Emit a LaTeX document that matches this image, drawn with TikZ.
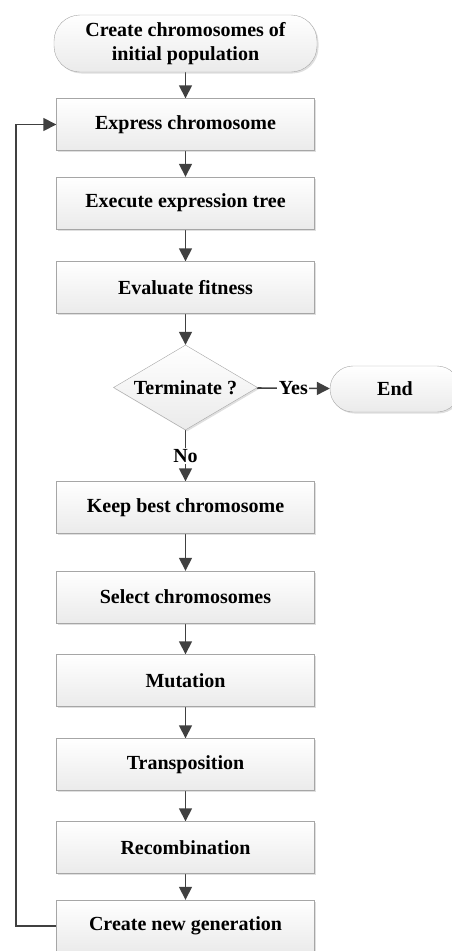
\documentclass[tikz,border=0pt]{standalone}
\usepackage{fontspec}
\setmainfont{Liberation Serif}
\usetikzlibrary{shapes,shadows,arrows.meta}
\pgfdeclarelayer{edgelayer}
\pgfdeclarelayer{nodelayer}
\pgfsetlayers{edgelayer,nodelayer,main}
\tikzset{font=\bfseries\fontsize{20}{24}\selectfont}
\definecolor{edgegrey}{HTML}{404040}
\definecolor{rimgrey}{HTML}{A6A6A6}
\tikzstyle{none}=[inner sep=0pt]
\tikzstyle{box}=[rectangle,draw=rimgrey,top color=white,bottom color=gray!16,inner sep=0pt,minimum width=258pt,minimum height=52pt,drop shadow={shadow xshift=1.5pt,shadow yshift=-1.5pt,opacity=0.25,fill=gray}]
\tikzstyle{term}=[box,rounded corners=26pt,align=center]
\tikzstyle{decide}=[box,diamond,aspect=1.7,minimum width=144pt,minimum height=85pt]
\tikzstyle{flow}=[draw=edgegrey,line width=1.6pt,-{Triangle[length=13pt,width=13pt]}]
\tikzstyle{lbl}=[fill=white,inner sep=1.5pt]

\begin{document}
\begin{tikzpicture}[x=1pt,y=-1pt]
	\clip (0,0) rectangle (452,951);
	\begin{pgfonlayer}{nodelayer}
		\node [style=term, minimum width=263pt, minimum height=57pt] (0) at (185.5, 43.5) {Create chromosomes of\\initial population};
		\node [style=box] (1) at (185.5, 124.5) {Express chromosome};
		\node [style=box] (2) at (185.5, 203) {Execute expression tree};
		\node [style=box] (3) at (185.5, 287.5) {Evaluate fitness};
		\node [style=decide] (4) at (185.5, 387.5) {Terminate ?};
		\node [style=term, minimum width=130pt, minimum height=46pt, rounded corners=23pt] (5) at (395, 389) {End};
		\node [style=box] (6) at (185.5, 507.5) {Keep best chromosome};
		\node [style=box] (7) at (185.5, 597) {Select chromosomes};
		\node [style=box] (8) at (185.5, 680.5) {Mutation};
		\node [style=box] (9) at (185.5, 764.5) {Transposition};
		\node [style=box] (10) at (185.5, 847.5) {Recombination};
		\node [style=box] (11) at (185.5, 926) {Create new generation};
		\node [style=none] (12) at (16, 926) {};
	\end{pgfonlayer}
	\begin{pgfonlayer}{edgelayer}
		\draw [style=flow] (0) to (1);
		\draw [style=flow] (1) to (2);
		\draw [style=flow] (2) to (3);
		\draw [style=flow] (3) to (4);
		\draw [style=flow] (4) to node [style=lbl] {Yes} (5);
		\draw [style=flow] (4) to node [style=lbl] {No} (6);
		\draw [style=flow] (6) to (7);
		\draw [style=flow] (7) to (8);
		\draw [style=flow] (8) to (9);
		\draw [style=flow] (9) to (10);
		\draw [style=flow] (10) to (11);
		\draw [style=flow] (11) -- (12.center) |- (1);
	\end{pgfonlayer}
\end{tikzpicture}
\end{document}
